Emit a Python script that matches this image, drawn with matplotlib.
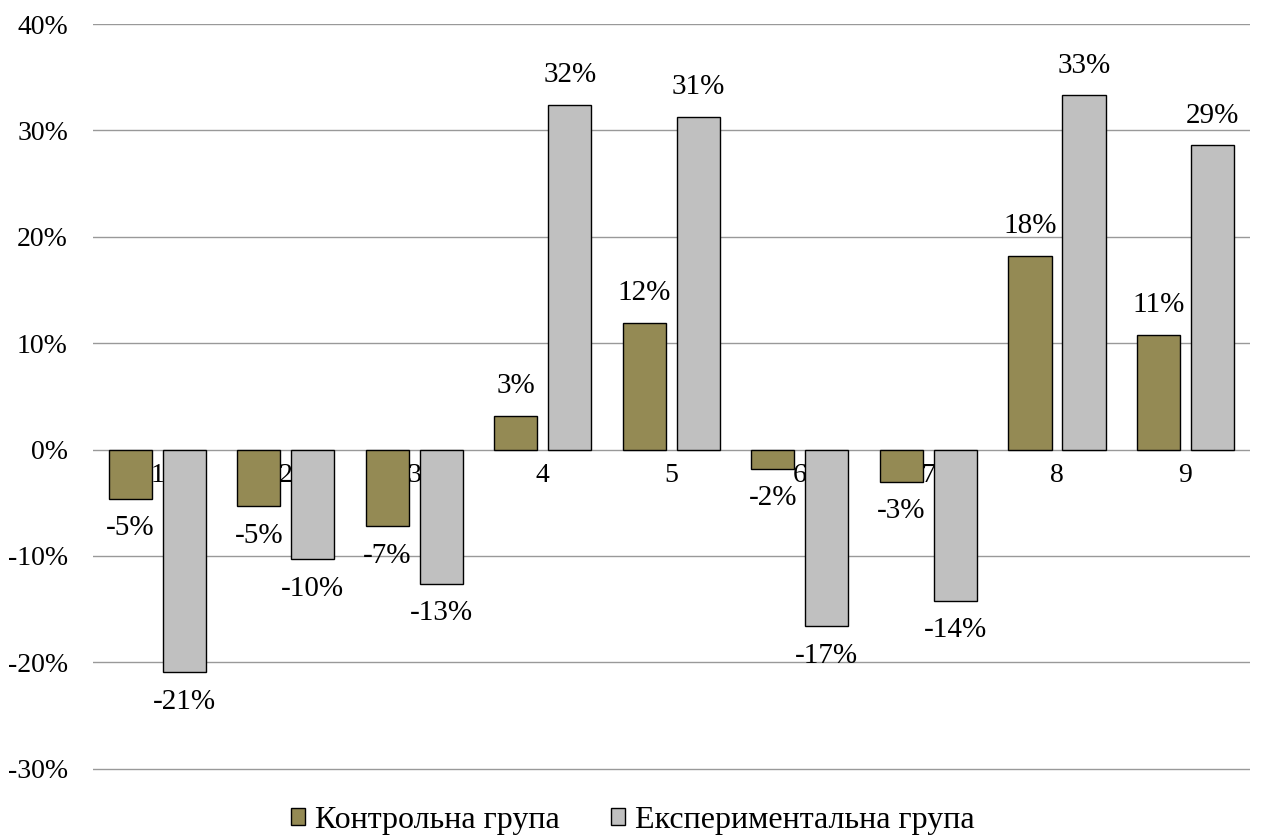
import numpy as np
import matplotlib.pyplot as plt
from matplotlib.ticker import FuncFormatter

categories = ['1', '2', '3', '4', '5', '6', '7', '8', '9']
control = [-4.6, -5.3, -7.2, 3.2, 11.9, -1.8, -3.0, 18.2, 10.8]
experimental = [-20.9, -10.3, -12.6, 32.4, 31.3, -16.6, -14.2, 33.3, 28.6]
series_names = ['Контрольна група', 'Експериментальна група']

plt.rcParams['font.family'] = ['Liberation Serif', 'DejaVu Serif']
plt.rcParams['axes.unicode_minus'] = False

fig = plt.figure(figsize=(12.65, 8.4), dpi=100)
ax = fig.add_axes([0.0735, 0.081, 0.9145, 0.8904])

x = np.arange(len(categories))
width = 0.335
off = 0.21

b1 = ax.bar(x - off, control, width, color='#948A54', edgecolor='black', linewidth=1, zorder=3,
            label=series_names[0])
b2 = ax.bar(x + off, experimental, width, color='#C0C0C0', edgecolor='black', linewidth=1, zorder=3,
            label=series_names[1])

for bars, vals in ((b1, control), (b2, experimental)):
    for rect, v in zip(bars, vals):
        cx = rect.get_x() + rect.get_width() / 2
        if v >= 0:
            ax.annotate('{:.0f}%'.format(v), (cx, v), xytext=(0, 12), textcoords='offset points',
                        ha='center', va='bottom', fontsize=21)
        else:
            ax.annotate('{:.0f}%'.format(v), (cx, v), xytext=(0, -12), textcoords='offset points',
                        ha='center', va='top', fontsize=21)

# category labels just below the zero line
for xi, c in zip(x, categories):
    ax.text(xi, -1.3, c, ha='center', va='top', fontsize=20, zorder=2)

ax.set_xlim(-0.5, len(categories) - 0.5)
ax.set_ylim(-30.3, 40)
ax.set_yticks(np.arange(-30, 41, 10))
ax.yaxis.set_major_formatter(FuncFormatter(lambda v, p: '{:.0f}%'.format(v)))
ax.set_xticks([])
ax.tick_params(axis='y', length=0, pad=18, labelsize=20)
ax.grid(axis='y', color='#999999', linewidth=1, zorder=0)
ax.set_axisbelow(True)
for s in ax.spines.values():
    s.set_visible(False)

fig.legend(handles=[b1, b2], loc='lower center', bbox_to_anchor=(0.5, 0.0), ncol=2, frameon=False,
           fontsize=23, handlelength=0.45, handleheight=0.45, handletextpad=0.3,
           columnspacing=1.6, borderpad=0.15, borderaxespad=0)

fig.savefig('out.png')
